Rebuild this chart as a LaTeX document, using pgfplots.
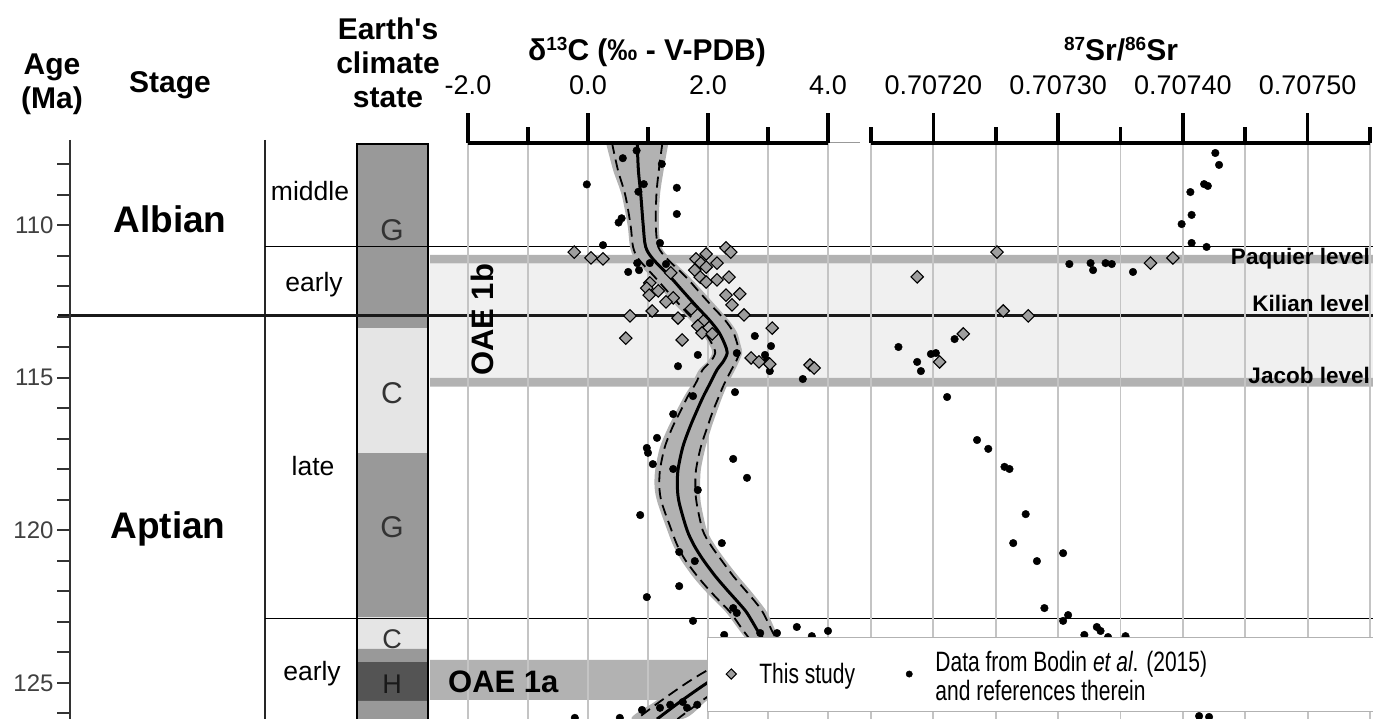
\documentclass[border=0pt]{standalone}
\usepackage{fontspec}
\setmainfont{Liberation Sans}
\newfontfamily\legfont[FakeStretch=0.75]{Liberation Sans}
\usepackage{pgfplots}
\pgfplotsset{compat=1.18}

\definecolor{bandgray}{gray}{0.70}
\definecolor{oaelight}{gray}{0.94}
\definecolor{gridgray}{gray}{0.77}
\definecolor{envgray}{gray}{0.70}
\definecolor{stG}{gray}{0.60}
\definecolor{stC}{gray}{0.90}
\definecolor{stH}{gray}{0.33}
\definecolor{diam}{gray}{0.62}

\newcommand{\fsz}[2]{\fontsize{#1pt}{#2pt}\selectfont}

\pgfplotsset{
  frame/.style={at={(0pt,0pt)}, anchor=south west, scale only axis,
    width=1373pt, height=719pt, xmin=0, xmax=1373, hide axis, clip=false},
  data/.style={anchor=south west, scale only axis, height=576pt,
    ymin=107.302, ymax=126.187, y dir=reverse,
    axis line style={draw=none}, ytick=\empty, xticklabels={},
    major tick length=0pt, minor tick length=0pt,
    xmajorgrids, xminorgrids,
    major grid style={gridgray, line width=1.8pt},
    minor grid style={gridgray, line width=1.8pt}, clip=false},
  ruler/.style={anchor=south west, scale only axis, height=30pt,
    ymin=0, ymax=1, axis x line*=bottom, axis y line=none,
    xtick align=inside, major tick length=30pt, minor tick length=16pt,
    every tick/.style={black, line width=3.6pt},
    x axis line style={black, line width=3.6pt},
    xticklabel style={font=\fsz{27}{32}, anchor=base, yshift=48pt}},
  dots/.style={only marks, mark=*, mark size=3.8pt, mark options={fill=black, draw=black}},
  diamonds/.style={only marks, mark=square*, mark size=4.4pt,
    mark options={rotate=45, fill=diam, draw=black, line width=1.1pt}},
}

\begin{document}
\begin{tikzpicture}

% bands, climate-state column and boundaries (x in picture units, y in Ma)
\begin{axis}[frame, ymin=102.613, ymax=126.187, y dir=reverse]
\addplot[fill=oaelight, draw=none] coordinates {(430,111.25) (1373,111.25) (1373,115.00) (430,115.00) (430,111.25)};
\addplot[fill=bandgray, draw=none] coordinates {(430,110.97) (1373,110.97) (1373,111.25) (430,111.25) (430,110.97)};
\addplot[fill=bandgray, draw=none] coordinates {(430,115.00) (1373,115.00) (1373,115.29) (430,115.29) (430,115.00)};
\addplot[fill=bandgray, draw=none] coordinates {(430,124.25) (1373,124.25) (1373,125.56) (430,125.56) (430,124.25)};
\addplot[fill=stG, draw=none] coordinates {(357,107.34) (428,107.34) (428,113.37) (357,113.37) (357,107.34)};
\addplot[fill=stC, draw=none] coordinates {(357,113.37) (428,113.37) (428,117.47) (357,117.47) (357,113.37)};
\addplot[fill=stG, draw=none] coordinates {(357,117.47) (428,117.47) (428,122.85) (357,122.85) (357,117.47)};
\addplot[fill=stC, draw=none] coordinates {(357,122.85) (428,122.85) (428,123.89) (357,123.89) (357,122.85)};
\addplot[fill=stG, draw=none] coordinates {(357,123.89) (428,123.89) (428,124.32) (357,124.32) (357,123.89)};
\addplot[fill=stH, draw=none] coordinates {(357,124.32) (428,124.32) (428,125.59) (357,125.59) (357,124.32)};
\addplot[fill=stG, draw=none] coordinates {(357,125.59) (428,125.59) (428,126.187) (357,126.187) (357,125.59)};
\addplot[black, line width=2pt] coordinates {(357,126.187) (357,107.34) (428,107.34) (428,126.187)};
\addplot[black!85, line width=2pt] coordinates {(265,107.20) (265,126.187)};
\addplot[black, line width=1.2pt] coordinates {(265,110.70) (1373,110.70)};
\addplot[black!90, line width=3pt] coordinates {(58,112.97) (1373,112.97)};
\addplot[black, line width=1.2pt] coordinates {(265,122.89) (1373,122.89)};
\addplot[black!40, line width=1.2pt] coordinates {(828,107.285) (860,107.285)};
\end{axis}

% age axis
\begin{axis}[at={(70pt,0pt)}, anchor=south west, scale only axis, width=20pt, height=579pt,
  xmin=0, xmax=1, ymin=107.203, ymax=126.187, y dir=reverse,
  axis y line*=left, axis x line=none,
  ytick={110,115,120,125}, yticklabels={110,115,120,125},
  minor ytick={108,109,111,112,113,114,116,117,118,119,121,122,123,124,126},
  ytick align=outside, major tick length=13pt, minor tick length=13pt,
  every tick/.style={black!80, line width=2pt},
  y axis line style={black!80, line width=2pt},
  yticklabel style={font=\fsz{24}{28}, text=black!75}]
\end{axis}

% delta 13C panel
\begin{axis}[data, at={(468pt,0pt)}, width=360pt, xmin=-2, xmax=4,
  xtick={-2,0,2,4}, minor xtick={-1,1,3}]
\addplot[fill=envgray, draw=none, smooth] coordinates {
(0.30,107.30) (0.42,108.20) (0.56,109.00) (0.66,110.00) (0.70,110.70) (0.78,111.10) (1.05,111.69)
(1.27,112.20) (1.49,112.68) (1.70,113.10) (1.88,113.50) (2.02,113.90) (2.07,114.18) (2.00,114.45)
(1.85,114.74) (1.73,115.20) (1.60,115.62) (1.47,116.10) (1.34,116.61) (1.20,117.27) (1.12,118.02)
(1.11,118.60) (1.16,119.10) (1.32,119.99) (1.42,120.50) (1.55,120.97) (1.74,121.50) (1.94,121.96)
(2.16,122.40) (2.31,122.71) (2.52,123.27) (2.64,123.60) (2.64,123.85) (2.24,124.25) (1.90,124.60)
(1.56,125.01) (1.13,125.60) (0.73,126.19)
(1.57,126.19) (1.97,125.60) (2.40,125.01) (2.74,124.60) (3.00,124.25) (3.20,123.85) (3.20,123.60)
(3.12,123.27) (2.99,122.71) (2.88,122.40) (2.70,121.96) (2.50,121.50) (2.29,120.97) (2.12,120.50)
(1.98,119.99) (1.88,119.10) (1.87,118.60) (1.88,118.02) (1.96,117.27) (2.06,116.61) (2.15,116.10)
(2.24,115.62) (2.33,115.20) (2.45,114.74) (2.52,114.45) (2.57,114.18) (2.54,113.90) (2.48,113.50)
(2.34,113.10) (2.15,112.68) (1.93,112.20) (1.69,111.69) (1.38,111.10) (1.22,110.70) (1.18,110.00)
(1.20,109.00) (1.26,108.20) (1.34,107.30)};
\addplot[black, line width=1.8pt, dash pattern=on 11pt off 6pt, smooth] coordinates {
(0.40,107.30) (0.50,108.20) (0.62,109.00) (0.71,110.00) (0.75,110.70) (0.84,111.10) (1.11,111.69)
(1.34,112.20) (1.56,112.68) (1.76,113.10) (1.94,113.50) (2.07,113.90) (2.12,114.18) (2.05,114.45)
(1.91,114.74) (1.79,115.20) (1.66,115.62) (1.54,116.10) (1.41,116.61) (1.28,117.27) (1.20,118.02)
(1.19,118.60) (1.23,119.10) (1.39,119.99) (1.49,120.50) (1.62,120.97) (1.82,121.50) (2.02,121.96)
(2.23,122.40) (2.38,122.71) (2.58,123.27) (2.70,123.60) (2.70,123.85) (2.32,124.25) (1.98,124.60)
(1.64,125.01) (1.21,125.60) (0.81,126.19)};
\addplot[black, line width=1.8pt, dash pattern=on 11pt off 6pt, smooth] coordinates {
(1.24,107.30) (1.18,108.20) (1.14,109.00) (1.13,110.00) (1.17,110.70) (1.32,111.10) (1.63,111.69)
(1.86,112.20) (2.08,112.68) (2.28,113.10) (2.42,113.50) (2.49,113.90) (2.52,114.18) (2.47,114.45)
(2.39,114.74) (2.27,115.20) (2.18,115.62) (2.08,116.10) (1.99,116.61) (1.88,117.27) (1.80,118.02)
(1.79,118.60) (1.81,119.10) (1.91,119.99) (2.05,120.50) (2.22,120.97) (2.42,121.50) (2.62,121.96)
(2.81,122.40) (2.92,122.71) (3.06,123.27) (3.14,123.60) (3.14,123.85) (2.92,124.25) (2.66,124.60)
(2.32,125.01) (1.89,125.60) (1.49,126.19)};
\addplot[black, line width=3pt, smooth] coordinates {
(0.82,107.30) (0.84,108.20) (0.88,109.00) (0.92,110.00) (0.96,110.70) (1.08,111.10) (1.37,111.69)
(1.60,112.20) (1.82,112.68) (2.02,113.10) (2.18,113.50) (2.28,113.90) (2.32,114.18) (2.26,114.45)
(2.15,114.74) (2.03,115.20) (1.92,115.62) (1.81,116.10) (1.70,116.61) (1.58,117.27) (1.50,118.02)
(1.49,118.60) (1.52,119.10) (1.65,119.99) (1.77,120.50) (1.92,120.97) (2.12,121.50) (2.32,121.96)
(2.52,122.40) (2.65,122.71) (2.82,123.27) (2.92,123.60) (2.92,123.85) (2.62,124.25) (2.32,124.60)
(1.98,125.01) (1.55,125.60) (1.15,126.19)};
\addplot[dots] coordinates {
(0.58,107.80) (0.81,107.55) (1.23,107.99) (-0.02,108.66) (0.93,108.65) (0.84,108.90) (1.48,108.77)
(1.48,109.63) (0.56,109.77) (0.51,109.91) (0.25,110.65) (1.20,110.58) (0.82,111.24) (0.85,111.47)
(0.67,111.53) (1.03,111.24) (1.30,111.27) (2.78,113.63) (3.05,113.96) (1.83,114.25) (2.48,114.19)
(2.95,114.25) (2.98,114.42) (3.03,114.78) (1.50,114.62) (3.58,115.04) (2.45,115.47) (1.75,115.60)
(1.42,116.19) (1.15,116.97) (0.98,117.30) (1.00,117.46) (1.08,117.83) (1.42,117.99) (2.42,117.66)
(2.65,118.28) (1.83,118.68) (0.87,119.50) (2.23,120.42) (1.52,120.71) (1.78,121.01) (1.52,121.83)
(0.98,122.19) (2.42,122.55) (2.48,122.71) (1.75,122.97) (2.27,123.43) (3.15,123.37) (3.48,123.17)
(3.73,123.47) (4.00,123.30) (2.87,123.37) (-0.22,126.15) (0.53,126.15) (0.90,125.89) (1.20,125.82)
(1.37,125.72) (1.58,125.63) (1.65,125.82) (1.82,125.72)};
\addplot[diamonds] coordinates {
(-0.23,110.88) (0.05,111.07) (0.25,111.10) (2.30,110.74) (2.38,110.88) (1.97,110.94) (1.80,111.10)
(1.88,111.24) (2.15,111.24) (1.97,111.37) (1.78,111.47) (1.38,111.56) (1.87,111.70) (1.97,111.86)
(2.15,111.79) (2.35,111.70) (1.03,111.89) (0.98,112.06) (1.17,112.15) (1.02,112.29) (1.42,112.38)
(1.30,112.51) (2.30,112.29) (2.53,112.25) (2.40,112.61) (1.72,112.74) (1.07,112.81) (0.70,112.97)
(1.50,113.04) (2.60,112.94) (1.92,113.14) (1.83,113.30) (1.90,113.53) (2.07,113.56) (3.07,113.37)
(0.63,113.70) (1.57,113.76) (2.72,114.35) (2.85,114.48) (3.03,114.55) (3.70,114.58) (3.77,114.68)};
\end{axis}

% 87Sr/86Sr panel
\begin{axis}[data, at={(871pt,0pt)}, width=499pt, xmin=0.70715, xmax=0.70755,
  xtick={0.7072,0.7073,0.7074,0.7075},
  minor xtick={0.70715,0.70725,0.70735,0.70745,0.70755},
  legend columns=2,
  legend style={at={(-0.3287,0.1424)}, anchor=north west, draw=black!30, fill=white,
    font=\legfont\fsz{28}{29}, inner xsep=19pt, inner ysep=12pt,
    cells={anchor=west},
    /tikz/every odd column/.append style={column sep=21pt},
    /tikz/every even column/.append style={column sep=49pt}}]
\addplot[dots, forget plot] coordinates {
(0.707426,107.63) (0.707429,108.02) (0.707417,108.65) (0.707420,108.71) (0.707406,108.91)
(0.707407,109.66) (0.707399,109.96) (0.707407,110.58) (0.707419,110.71) (0.707309,111.27)
(0.707326,111.24) (0.707328,111.47) (0.707338,111.24) (0.707343,111.27) (0.707360,111.53)
(0.707172,113.99) (0.707187,114.48) (0.707190,114.78) (0.707198,114.22) (0.707202,114.19)
(0.707217,113.73) (0.707211,115.63) (0.707235,117.04) (0.707244,117.33) (0.707257,117.92)
(0.707261,117.99) (0.707274,119.47) (0.707264,120.42) (0.707283,121.01) (0.707304,120.75)
(0.707289,122.55) (0.707308,122.78) (0.707304,122.97) (0.707331,123.17) (0.707334,123.30)
(0.707321,123.43) (0.707340,123.50) (0.707354,123.47) (0.707413,126.09) (0.707421,126.12)};
\addplot[diamonds, forget plot] coordinates {
(0.707251,110.88) (0.707187,111.69) (0.707374,111.24) (0.707392,111.07)
(0.707256,112.81) (0.707276,112.97) (0.707224,113.56) (0.707205,114.48)};
\addlegendimage{only marks, mark=square*, mark size=3.6pt, mark options={rotate=45, fill=diam, draw=black, line width=1pt}}
\addlegendentry{This study}
\addlegendimage{only marks, mark=*, mark size=3.2pt, mark options={fill=black, draw=black}}
\addlegendentry{\raisebox{9pt}{\begin{tabular}[c]{@{}l@{}}Data from Bodin \textit{et al}. (2015)\\and references therein\end{tabular}}\hspace*{170pt}}
\end{axis}

% top scales
\begin{axis}[ruler, at={(468pt,576pt)}, width=360pt, xmin=-2, xmax=4,
  xtick={-2,0,2,4}, xticklabels={-2.0,0.0,2.0,4.0}, minor xtick={-1,1,3}]
\end{axis}
\begin{axis}[ruler, at={(871pt,576pt)}, width=499pt, xmin=0.70715, xmax=0.70755,
  xtick={0.7072,0.7073,0.7074,0.7075}, xticklabels={0.70720,0.70730,0.70740,0.70750},
  minor xtick={0.70715,0.70725,0.70735,0.70745,0.70755}]
\end{axis}

% texts (picture units, y downwards)
\begin{axis}[frame, ymin=0, ymax=719, y dir=reverse]
\node[font=\bfseries\fsz{30}{35}, anchor=base] at (axis cs:52,75) {Age};
\node[font=\bfseries\fsz{30}{35}, anchor=base] at (axis cs:52,109) {(Ma)};
\node[font=\bfseries\fsz{30}{35}, anchor=base] at (axis cs:170,93) {Stage};
\node[font=\bfseries\fsz{30}{35}, anchor=base] at (axis cs:388,40) {Earth{\addfontfeatures{Ligatures=TeXOff}'}s};
\node[font=\bfseries\fsz{30}{35}, anchor=base] at (axis cs:388,74) {climate};
\node[font=\bfseries\fsz{30}{35}, anchor=base] at (axis cs:388,108) {state};
\node[font=\bfseries\fsz{30}{35}, anchor=base] at (axis cs:647,61)
  {δ\raisebox{0.36em}{\fsz{19}{19}13}C (‰ - V-PDB)};
\node[font=\bfseries\fsz{30}{35}, anchor=base] at (axis cs:1121,61)
  {\raisebox{0.36em}{\fsz{19}{19}87}Sr/\raisebox{0.36em}{\fsz{19}{19}86}Sr};
\node[font=\bfseries\fsz{37}{42}, anchor=base] at (axis cs:170,233) {Albian};
\node[font=\bfseries\fsz{37}{42}, anchor=base] at (axis cs:168,538) {Aptian};
\node[font=\fsz{26.5}{30}, anchor=base] at (axis cs:310,201) {middle};
\node[font=\fsz{26.5}{30}, anchor=base] at (axis cs:314,292) {early};
\node[font=\fsz{26.5}{30}, anchor=base] at (axis cs:313,475) {late};
\node[font=\fsz{26.5}{30}, anchor=base] at (axis cs:312,680) {early};
\node[font=\fsz{30}{34}, text=black!80, anchor=base] at (axis cs:392,241) {G};
\node[font=\fsz{30}{34}, text=black!80, anchor=base] at (axis cs:392,403) {C};
\node[font=\fsz{30}{34}, text=black!80, anchor=base] at (axis cs:392,537) {G};
\node[font=\fsz{27}{30}, text=black!80, anchor=base] at (axis cs:392,648) {C};
\node[font=\fsz{27}{30}, text=black!90, anchor=base] at (axis cs:392,693) {H};
\node[font=\bfseries\fsz{31}{35}, rotate=90, anchor=center] at (axis cs:482,320) {OAE 1b};
\node[font=\bfseries\fsz{31}{35}, anchor=base west, inner sep=0pt] at (axis cs:448,692) {OAE 1a};
\node[font=\bfseries\fsz{22.5}{26}, anchor=base east, inner sep=0pt] at (axis cs:1370,265) {Paquier level};
\node[font=\bfseries\fsz{22.5}{26}, anchor=base east, inner sep=0pt] at (axis cs:1370,312) {Kilian level};
\node[font=\bfseries\fsz{22.5}{26}, anchor=base east, inner sep=0pt] at (axis cs:1370,384) {Jacob level};
\end{axis}

\pgfresetboundingbox
\path (0pt,0pt) rectangle (1373pt,719pt);
\end{tikzpicture}
\end{document}
